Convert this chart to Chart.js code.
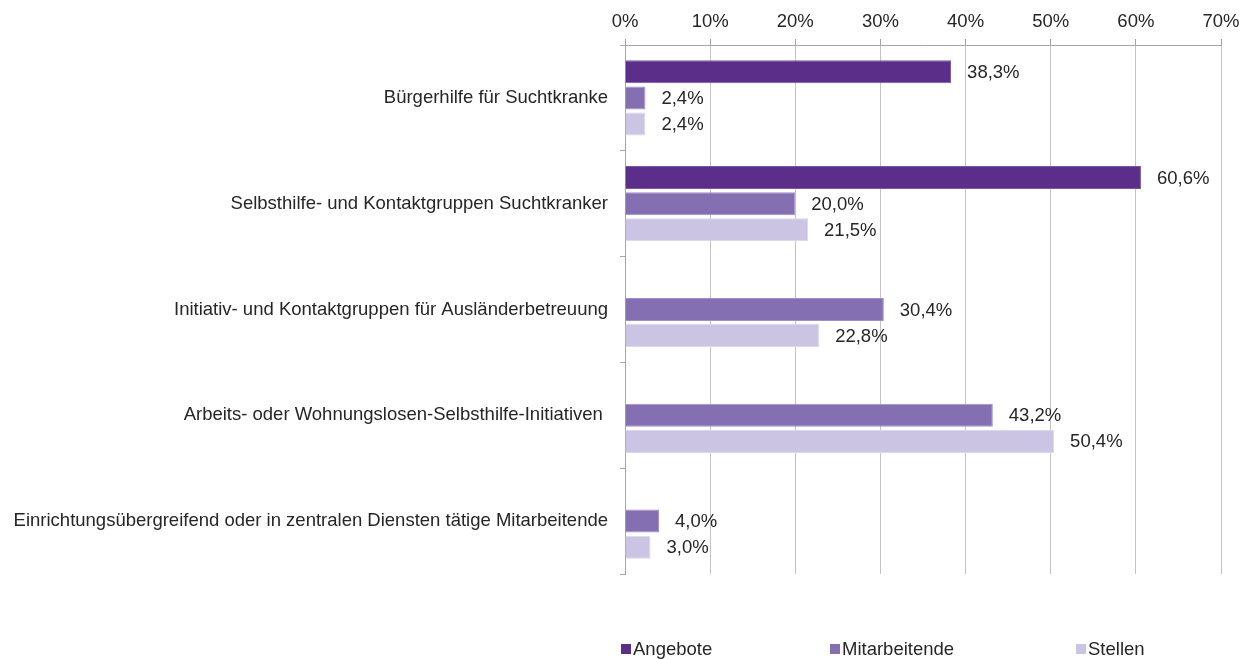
<!DOCTYPE html>
<html>
<head>
<meta charset="utf-8">
<script src="https://cdn.jsdelivr.net/npm/chart.js@4/dist/chart.umd.min.js"></script>
<style>
  html, body { margin: 0; padding: 0; background: #ffffff; }
  #wrap { width: 1242px; height: 659px; position: relative; }
</style>
</head>
<body>
<div id="wrap"><canvas id="c" width="1242" height="659"></canvas></div>
<script>
const categories = [
  "Bürgerhilfe für Suchtkranke",
  "Selbsthilfe- und Kontaktgruppen Suchtkranker",
  "Initiativ- und Kontaktgruppen für Ausländerbetreuung",
  "Arbeits- oder Wohnungslosen-Selbsthilfe-Initiativen ",
  "Einrichtungsübergreifend oder in zentralen Diensten tätige Mitarbeitende"
];
const seriesNames = ["Angebote", "Mitarbeitende", "Stellen"];
const angebote = [38.3, 60.6, null, null, null];
const mitarbeitende = [2.4, 20.0, 30.4, 43.2, 4.0];
const stellen = [2.4, 21.5, 22.8, 50.4, 3.0];
const xTicks = [0, 10, 20, 30, 40, 50, 60, 70];

const FONT = "'Liberation Sans', Arial, sans-serif";
const FS = 18.5;
const colors = ["#5a2e89", "#836fb1", "#cbc5e3"];
const borders = ["#7a58a8", "#a08fc8", "#dcd7ee"];
const legendX = [621, 830, 1076];

const fmt = v => v.toFixed(1).replace('.', ',') + '%';

const labelPlugin = {
  id: 'valueLabels',
  afterDatasetsDraw(chart) {
    const ctx = chart.ctx;
    ctx.save();
    ctx.font = FS + "px " + FONT;
    ctx.fillStyle = "#262626";
    ctx.textAlign = "left";
    ctx.textBaseline = "middle";
    chart.data.datasets.forEach((ds, i) => {
      const meta = chart.getDatasetMeta(i);
      meta.data.forEach((el, j) => {
        const v = ds.data[j];
        if (v === null || v === undefined) return;
        ctx.fillText(fmt(v), el.x + 16, el.y + 1);
      });
    });
    ctx.restore();
  }
};

const legendPlugin = {
  id: 'customLegend',
  afterDraw(chart) {
    const ctx = chart.ctx;
    ctx.save();
    ctx.font = FS + "px " + FONT;
    ctx.textBaseline = "middle";
    ctx.textAlign = "left";
    const y = 649;
    chart.data.datasets.forEach((ds, i) => {
      const x = legendX[i];
      ctx.fillStyle = ds.backgroundColor;
      ctx.fillRect(x, y - 5, 10, 10);
      ctx.fillStyle = "#262626";
      ctx.fillText(ds.label, x + 12, y + 1);
    });
    ctx.restore();
  }
};

new Chart(document.getElementById('c'), {
  type: 'bar',
  data: {
    labels: categories,
    datasets: [
      { label: seriesNames[0], data: angebote, backgroundColor: colors[0], borderColor: borders[0], borderWidth: 1 },
      { label: seriesNames[1], data: mitarbeitende, backgroundColor: colors[1], borderColor: borders[1], borderWidth: 1 },
      { label: seriesNames[2], data: stellen, backgroundColor: colors[2], borderColor: borders[2], borderWidth: 1 }
    ]
  },
  options: {
    indexAxis: 'y',
    responsive: false,
    animation: false,
    devicePixelRatio: 1,
    layout: { padding: { left: 0, right: 21, top: 0, bottom: 85 } },
    datasets: { bar: { categoryPercentage: 0.74, barPercentage: 0.88 } },
    plugins: {
      legend: { display: false },
      tooltip: { enabled: false }
    },
    scales: {
      x: {
        position: 'top',
        min: 0,
        max: 70,
        afterBuildTicks(scale) { scale.ticks = xTicks.map(v => ({ value: v })); },
        afterFit(scale) { scale.height = 45; scale.paddingLeft = 0; scale.paddingRight = 0; },
        ticks: {
          font: { family: FONT, size: FS },
          color: "#262626",
          padding: 6,
          maxRotation: 0,
          callback: v => v + '%'
        },
        grid: { color: "#c4c4c4", lineWidth: 1, tickLength: 6, tickColor: "#a6a6a6" },
        border: { color: "#a6a6a6", width: 1 }
      },
      y: {
        afterFit(scale) { scale.width = 625; },
        ticks: {
          font: { family: FONT, size: FS },
          color: "#262626",
          padding: 12,
          autoSkip: false
        },
        grid: { offset: true, drawOnChartArea: false, tickLength: 5, color: "#a6a6a6" },
        border: { color: "#a6a6a6", width: 1 }
      }
    }
  },
  plugins: [labelPlugin, legendPlugin]
});
</script>
</body>
</html>
